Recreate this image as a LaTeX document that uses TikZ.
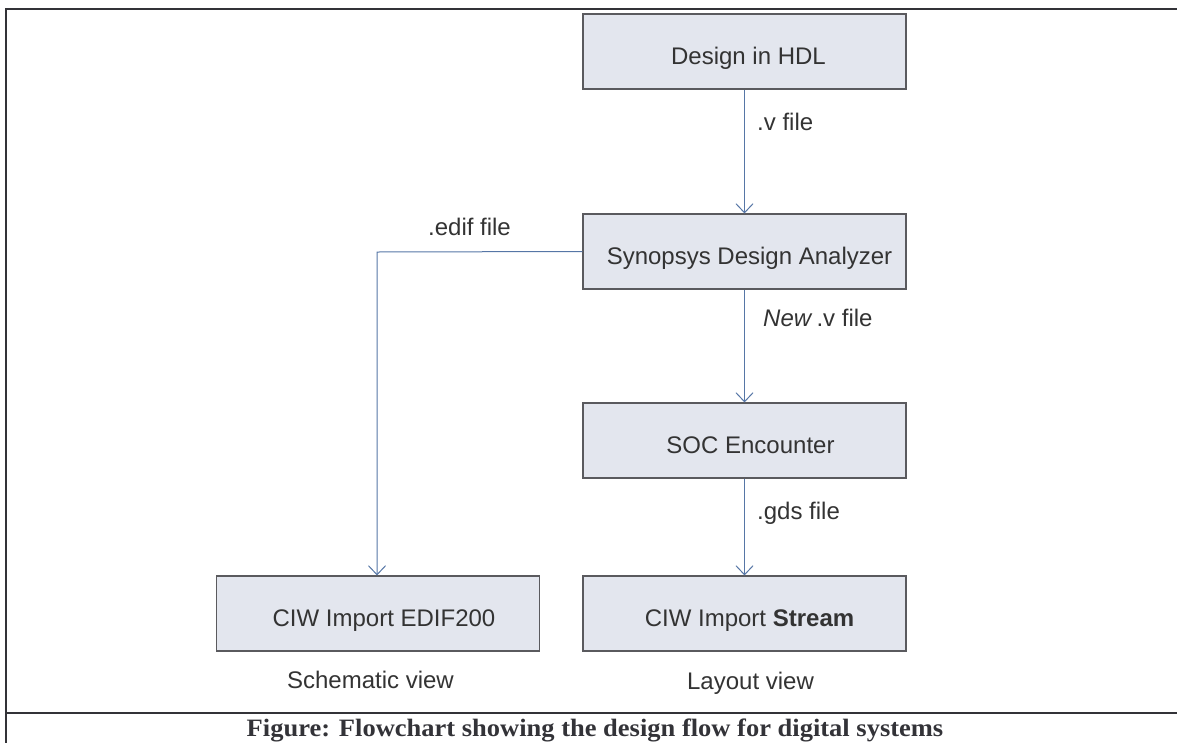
\documentclass[tikz,border=0pt]{standalone}
\usepackage{fontspec}
\setmainfont{Liberation Sans}
\newfontfamily\capfont{Liberation Serif}
\usetikzlibrary{arrows.meta}
\definecolor{boxfill}{HTML}{E3E6EE}
\definecolor{boxline}{HTML}{5A5A5E}
\definecolor{arrowcol}{HTML}{5676A6}
\definecolor{txt}{HTML}{333333}
\definecolor{framecol}{HTML}{333338}
\tikzset{
  flowbox/.style={draw=boxline, line width=1.1pt, fill=boxfill, minimum width=323pt, minimum height=75pt,
    inner sep=0pt, text height=26pt, text depth=0pt, text=txt, font=\fontsize{24}{28}\selectfont},
  conn/.style={draw=arrowcol, line width=1pt, -{Straight Barb[length=9pt,width=17pt,line width=1pt]}},
  lbl/.style={text=txt, font=\fontsize{24}{28}\selectfont, inner sep=0pt},
  framestyle/.style={draw=framecol, line width=2pt}
}
\begin{document}
\begin{tikzpicture}[x=1pt,y=-1pt]
\useasboundingbox (0,0) rectangle (1177,742);
% frame
\coordinate (fTL) at (6,9);
\coordinate (fTR) at (1178,9);
\coordinate (fBL) at (6,743);
\coordinate (hL) at (6,713);
\coordinate (hR) at (1178,713);
\draw[framestyle] (fBL) -- (fTL) -- (fTR);
\draw[framestyle] (hL) -- (hR);
% boxes
\node[flowbox] (hdl) at (744.5,51.5) {\hspace*{8pt}Design in HDL};
\node[flowbox] (syn) at (744.5,251.5) {\hspace*{10pt}Synopsys Design Analyzer};
\node[flowbox] (soc) at (744.5,440.5) {\hspace*{12pt}SOC Encounter};
\node[flowbox] (str) at (744.5,613.5) {\hspace*{10pt}CIW Import \textbf{Stream}};
\node[flowbox] (edif) at (378,613.5) {\hspace*{12pt}CIW Import EDIF200};
% connectors
\draw[conn] (hdl) -- (syn);
\draw[conn] (syn) -- (soc);
\draw[conn] (soc) -- (str);
\coordinate (bend) at (377,252);
\draw[conn] (syn.west) -- (bend) -- (bend |- edif.north);
% labels
\node[lbl, anchor=base west] (lv) at (757,130) {.v file};
\node[lbl, anchor=base west] (lnv) at (763,326) {\textit{New}\,.v file};
\node[lbl, anchor=base west] (lg) at (757,519) {.gds file};
\node[lbl, anchor=base] (le) at (469.5,235) {.edif file};
\node[lbl, anchor=base] (ls) at (370.5,688) {Schematic view};
\node[lbl, anchor=base] (ll) at (750.5,689) {Layout view};
% caption
\node[anchor=base, inner sep=0pt, text=framecol, font=\capfont\bfseries\fontsize{25}{28}\selectfont, xscale=1.06] (cap) at (595,736) {Figure: Flowchart showing the design flow for digital systems};
\end{tikzpicture}
\end{document}
